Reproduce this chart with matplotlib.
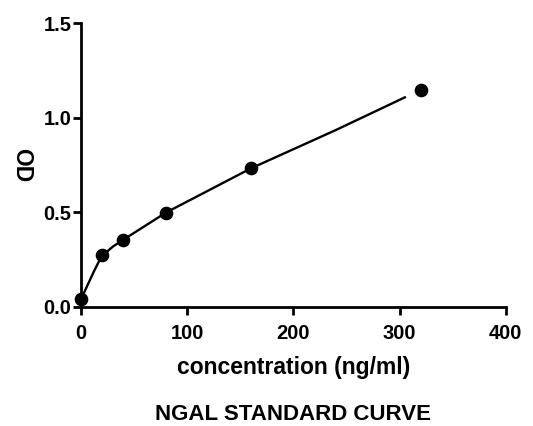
import matplotlib
matplotlib.use("Agg")
import matplotlib.pyplot as plt

plt.rcParams['font.family'] = ['Liberation Sans', 'DejaVu Sans']
plt.rcParams['font.weight'] = 'bold'

# Standard points
concentration = [0, 20, 40, 80, 160, 320]
od = [0.04, 0.272, 0.355, 0.498, 0.732, 1.145]

# Fitted curve
curve_x = [0, 7, 12, 16, 20, 30, 40, 80, 160, 240, 305]
curve_y = [0.04, 0.124, 0.185, 0.23, 0.27, 0.318, 0.355, 0.498, 0.732, 0.935, 1.108]

x_ticks = [0, 100, 200, 300, 400]
y_ticks = [0.0, 0.5, 1.0, 1.5]

fig = plt.figure(figsize=(5.33, 4.26), dpi=100)
ax = fig.add_axes([81/533, 1-306.7/426, (505.7-81)/533, (306.7-23.3)/426])

ax.plot(curve_x, curve_y, color='black', lw=1.7, clip_on=False, zorder=2)
ax.plot(concentration, od, 'o', color='black', ms=8.8, clip_on=False, zorder=3)

ax.set_xlim(0, 400)
ax.set_ylim(0, 1.5)
ax.set_xticks(x_ticks)
ax.set_xticklabels([str(v) for v in x_ticks])
ax.set_yticks(y_ticks)
ax.set_yticklabels([f"{v:.1f}" for v in y_ticks])

for s in ['top', 'right']:
    ax.spines[s].set_visible(False)
for s in ['left', 'bottom']:
    ax.spines[s].set_linewidth(2.0)
ax.tick_params(axis='both', width=2.0, length=5.5, labelsize=14.5)
ax.tick_params(axis='x', pad=7)
ax.tick_params(axis='y', pad=1.5)
for lbl in ax.get_xticklabels() + ax.get_yticklabels():
    lbl.set_fontweight('bold')

ax.set_xlabel('concentration (ng/ml)', fontsize=16.5, fontweight='bold')
ax.xaxis.set_label_coords(0.5, -(356 - 306.7) / 283.4)
ax.set_ylabel('OD', fontsize=16.5, fontweight='bold', rotation=270, va='center')
ax.yaxis.set_label_coords(-(81 - 22) / 424.7, 0.5)

fig.text(293/533, 1-414.5/426, 'NGAL STANDARD CURVE', ha='center', va='center',
         fontsize=16, fontweight='bold')

fig.savefig('out.png', dpi=100)
